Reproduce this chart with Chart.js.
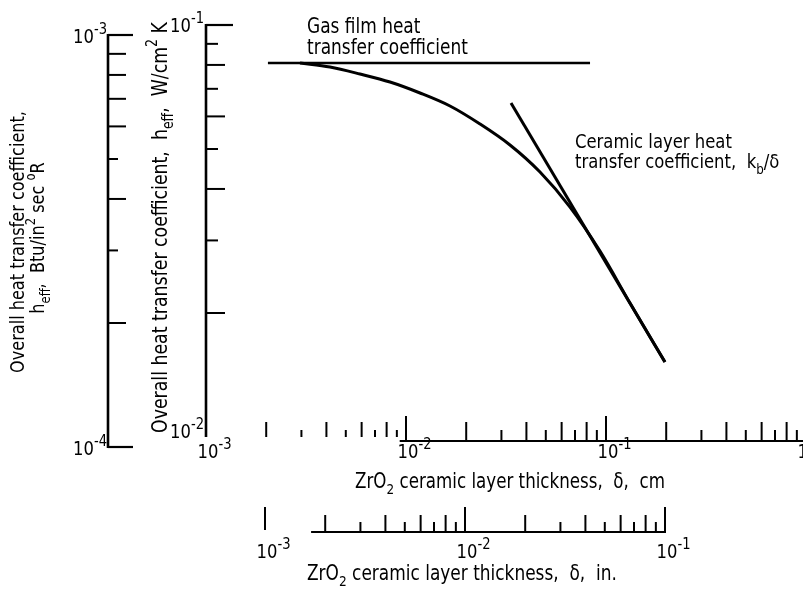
<!DOCTYPE html>
<html><head><meta charset="utf-8">
<script src="https://cdn.jsdelivr.net/npm/chart.js@4.4.1/dist/chart.umd.min.js"></script>
<style>
html,body{margin:0;padding:0;background:#fff;overflow:hidden;width:803px;height:589px}
#wrap{position:absolute;left:0;top:0;width:830px;height:589px}
</style>
</head><body><div id="wrap"><canvas id="c" width="830" height="589"></canvas></div>
<script>
// ---------------- data ----------------
const overallThicknessCm = [0.002951, 0.004169, 0.005888, 0.008318, 0.011749, 0.016596, 0.023442, 0.033113, 0.046774, 0.066069, 0.093325, 0.131826, 0.197242];
const overallCoefW       = [0.0809, 0.07907, 0.07604, 0.07271, 0.06839, 0.06359, 0.05750, 0.05113, 0.04396, 0.03615, 0.02827, 0.02114, 0.01520];
const gasFilmThicknessCm = [0.00204, 0.0832];
const gasFilmCoefW       = [0.0809, 0.0809];
const ceramicThicknessCm = [0.0335, 0.197];
const ceramicCoefW       = [0.0647, 0.0152];
// tick definitions
const cmDecadeExps  = [-3, -2, -1, 0];
const inDecadeExps  = [-3, -2, -1];
const wDecadeExps   = [-2, -1];
const btuDecadeExps = [-4, -3];
const minorMantissas = [2, 3, 4, 5, 6, 7, 8, 9];

// ---------------- layout / style constants ----------------
const FONT = '"DejaVu Sans", "Liberation Sans", sans-serif';
const SQ = 0.82;                     // horizontal squeeze to imitate the condensed typeface
const INCH_AXIS_SHIFT = 0.295;       // decades the inch scale is shifted from the cm scale in the drawing
const BTU_AXIS_SHIFT = 10 / 412;     // decades the Btu scale is shifted vs the W scale in the drawing

const zip = (xs, ys) => xs.map((x, i) => ({x, y: ys[i]}));

function setFont(ctx, size){ ctx.font = size.toFixed(2) + 'px ' + FONT; }
function richWidth(ctx, segs, size){
  let w = 0;
  for (const s of segs){ setFont(ctx, size * (s.k || 1)); w += ctx.measureText(s.t).width * SQ; }
  return w;
}
function drawRich(ctx, segs, x, y, size, align){
  const w = richWidth(ctx, segs, size);
  let cx = align === 'center' ? x - w/2 : (align === 'right' ? x - w : x);
  ctx.textAlign = 'left'; ctx.textBaseline = 'alphabetic';
  for (const s of segs){
    setFont(ctx, size * (s.k || 1));
    ctx.save();
    ctx.translate(cx, y + (s.dy || 0) * size);
    ctx.scale(SQ, 1);
    ctx.fillText(s.t, 0, 0);
    ctx.restore();
    cx += ctx.measureText(s.t).width * SQ;
  }
}
function fitSize(ctx, segs, target){ return 20 * target / richWidth(ctx, segs, 20); }
const sub = t => ({t, k: 0.72, dy: 0.28});
const sup = t => ({t, k: 0.72, dy: -0.45});
function powSegs(e){ return [{t: '10'}, {t: (e < 0 ? '-' : '') + Math.abs(e), k: 0.8, dy: -0.45}]; }
function drawPowCentered(ctx, e, x, y, size){
  const w10 = richWidth(ctx, [{t: '10'}], size);
  drawRich(ctx, powSegs(e), x - w10/2, y, size, 'left');
}

const axesPlugin = {
  id: 'axesPlugin',
  afterDraw(chart){
    const ctx = chart.ctx;
    const sx = chart.scales.x, sy = chart.scales.y, sxi = chart.scales.xin, syb = chart.scales.ybtu;
    ctx.save();
    ctx.strokeStyle = '#000'; ctx.fillStyle = '#000'; ctx.lineCap = 'butt';
    const line = (x1, y1, x2, y2, w) => { ctx.lineWidth = w; ctx.beginPath(); ctx.moveTo(x1, y1); ctx.lineTo(x2, y2); ctx.stroke(); };
    const labelSize = 20;

    // ---- W/cm2 K axis ----
    const xW = sx.getPixelForValue(Math.pow(10, cmDecadeExps[0]));
    const wTop = sy.getPixelForValue(Math.pow(10, wDecadeExps[1]));
    const wBot = sy.getPixelForValue(Math.pow(10, wDecadeExps[0]));
    line(xW, wTop - 1, xW, wBot, 2.6);
    line(xW, wTop, xW + 27, wTop, 2.2);
    for (const m of minorMantissas){
      const y = sy.getPixelForValue(m * Math.pow(10, wDecadeExps[0]));
      line(xW, y, xW + (m % 2 === 0 ? 19 : 12), y, 2);
    }
    const wLabelDy = [1, 7];
    wDecadeExps.forEach((e, i) => {
      const y = sy.getPixelForValue(Math.pow(10, e));
      drawRich(ctx, powSegs(e), xW - 2, y + wLabelDy[i], labelSize, 'right');
    });

    // ---- Btu axis ----
    const xB = 108;
    const bTop = syb.getPixelForValue(Math.pow(10, btuDecadeExps[1]));
    const bBot = syb.getPixelForValue(Math.pow(10, btuDecadeExps[0]));
    line(xB, bTop - 1, xB, bBot + 1, 2.6);
    line(xB, bTop, xB + 25, bTop, 2.2);
    line(xB, bBot, xB + 25, bBot, 2.2);
    for (const m of minorMantissas){
      const y = syb.getPixelForValue(m * Math.pow(10, btuDecadeExps[0]));
      line(xB, y, xB + ((m === 3 || m === 5) ? 10 : 18), y, 2);
    }
    btuDecadeExps.forEach(e => {
      const y = syb.getPixelForValue(Math.pow(10, e));
      drawRich(ctx, powSegs(e), xB - 1, y + 8, labelSize, 'right');
    });

    // ---- cm axis ----
    const cmBase = 441;
    line(sx.getPixelForValue(0.0093), cmBase, sx.right, cmBase, 1.8);
    cmDecadeExps.forEach((e, di) => {
      const first = di === 0;
      const x1 = sx.getPixelForValue(Math.pow(10, e));
      if (!first) line(x1, 416, x1, cmBase + 1, 2);
      if (e < cmDecadeExps[cmDecadeExps.length - 1]){
        for (const m of minorMantissas){
          const x = sx.getPixelForValue(m * Math.pow(10, e));
          const bot = first ? 437 : cmBase;
          line(x, m % 2 === 0 ? 422 : 430, x, bot, 2);
        }
      }
      drawPowCentered(ctx, e, x1 + 2, 458, labelSize);
    });

    // ---- inch axis ----
    const inBase = 532;
    line(sxi.getPixelForValue(0.0017), inBase, sxi.getPixelForValue(Math.pow(10, inDecadeExps[2])), inBase, 1.8);
    inDecadeExps.forEach((e, di) => {
      const x1 = sxi.getPixelForValue(Math.pow(10, e));
      line(x1, 507, x1, di === 0 ? 530 : inBase + 1, 2);
      if (di < inDecadeExps.length - 1){
        for (const m of minorMantissas){
          const x = sxi.getPixelForValue(m * Math.pow(10, e));
          line(x, m % 2 === 0 ? 515 : 522, x, inBase, 2);
        }
      }
      drawPowCentered(ctx, e, x1 + 2, 558, labelSize);
    });

    // ---- axis titles ----
    const cmTitle = [{t: 'ZrO'}, sub('2'), {t: ' ceramic layer thickness,  \u03b4,  cm'}];
    drawRich(ctx, cmTitle, 510, 488, fitSize(ctx, cmTitle, 310), 'center');
    const inTitle = [{t: 'ZrO'}, sub('2'), {t: ' ceramic layer thickness,  \u03b4,  in.'}];
    drawRich(ctx, inTitle, 307, 580, fitSize(ctx, inTitle, 310), 'left');

    const midTitle = [{t: 'Overall heat transfer coefficient,  h'}, sub('eff'), {t: ',  W/cm'}, sup('2'), {t: ' K'}];
    ctx.save(); ctx.translate(167, 433); ctx.rotate(-Math.PI / 2);
    drawRich(ctx, midTitle, 0, 0, fitSize(ctx, midTitle, 411), 'left');
    ctx.restore();

    const leftL1 = [{t: 'Overall heat transfer coefficient,'}];
    const leftL2 = [{t: 'h'}, sub('eff'), {t: ',  Btu/in'}, sup('2'), {t: ' sec '}, sup('o'), {t: 'R'}];
    const lsz = fitSize(ctx, leftL1, 262);
    ctx.save(); ctx.translate(24, 242); ctx.rotate(-Math.PI / 2);
    drawRich(ctx, leftL1, 0, 0, lsz, 'center');
    ctx.restore();
    ctx.save(); ctx.translate(44, 238); ctx.rotate(-Math.PI / 2);
    drawRich(ctx, leftL2, 0, 0, lsz, 'center');
    ctx.restore();

    // ---- curve annotations ----
    const gasSize = fitSize(ctx, [{t: 'transfer coefficient'}], 161);
    drawRich(ctx, [{t: 'Gas film heat'}], 307, 33, gasSize, 'left');
    drawRich(ctx, [{t: 'transfer coefficient'}], 307, 54, gasSize, 'left');
    const cerSize = fitSize(ctx, [{t: 'Ceramic layer heat'}], 157);
    drawRich(ctx, [{t: 'Ceramic layer heat'}], 575, 148, cerSize, 'left');
    drawRich(ctx, [{t: 'transfer coefficient,  k'}, sub('b'), {t: '/\u03b4'}], 575, 168, cerSize, 'left');
    ctx.restore();
  }
};

const chart = new Chart(document.getElementById('c').getContext('2d'), {
  type: 'line',
  data: {
    datasets: [
      {label: 'Gas film', data: zip(gasFilmThicknessCm, gasFilmCoefW), borderColor: '#000', borderWidth: 2.6, pointRadius: 0, tension: 0},
      {label: 'Overall', data: zip(overallThicknessCm, overallCoefW), borderColor: '#000', borderWidth: 3, pointRadius: 0, cubicInterpolationMode: 'monotone'},
      {label: 'Ceramic', data: zip(ceramicThicknessCm, ceramicCoefW), borderColor: '#000', borderWidth: 3, pointRadius: 0, tension: 0}
    ]
  },
  options: {
    responsive: false, animation: false, devicePixelRatio: 1,
    layout: {padding: {left: 206, right: 24, top: 25, bottom: 152}},
    plugins: {legend: {display: false}, tooltip: {enabled: false}},
    scales: {
      x: {type: 'logarithmic', min: 1e-3, max: 1, display: false},
      y: {type: 'logarithmic', min: 0.01, max: 0.1, display: false},
      xin: {type: 'logarithmic', axis: 'x', position: 'bottom', display: false,
            min: Math.pow(10, -3 - INCH_AXIS_SHIFT), max: Math.pow(10, -INCH_AXIS_SHIFT)},
      ybtu: {type: 'logarithmic', axis: 'y', position: 'left', display: false,
            min: Math.pow(10, -4 + BTU_AXIS_SHIFT), max: Math.pow(10, -3 + BTU_AXIS_SHIFT)}
    }
  },
  plugins: [axesPlugin]
});
</script>
</body></html>
